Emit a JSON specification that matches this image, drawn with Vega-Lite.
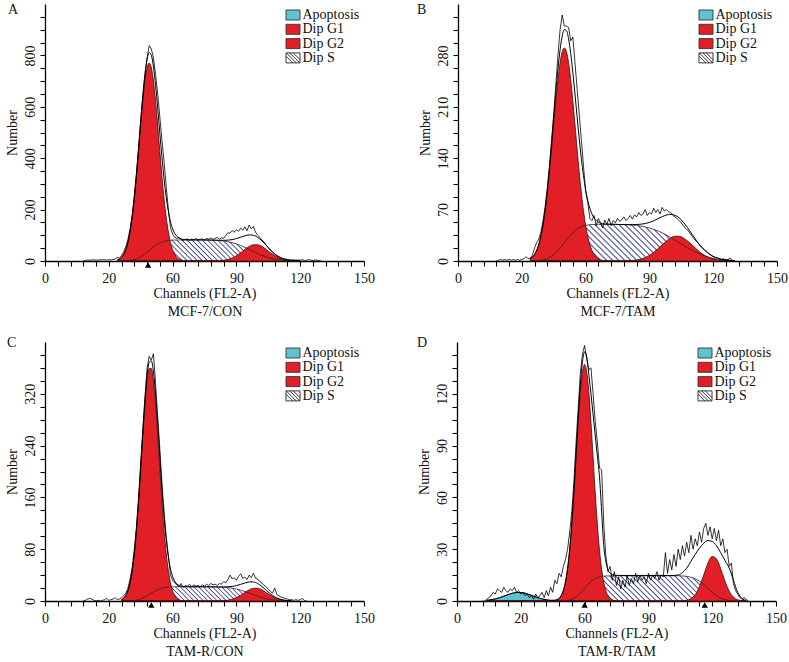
{
"$schema": "https://vega.github.io/schema/vega-lite/v6.json",
"background": "white",
"padding": {"left": 5, "top": 3, "right": 0, "bottom": 0},
"config": {
 "view": {"stroke": null},
 "font": "Liberation Serif",
 "axis": {"labelFont": "Liberation Serif", "titleFont": "Liberation Serif", "labelFontSize": 14, "titleFontSize": 14, "titleFontWeight": "normal", "labelColor": "#111", "titleColor": "#111", "domainColor": "#000", "domainWidth": 1.3, "tickColor": "#000", "tickWidth": 1.1, "grid": false, "labelOverlap": false, "labelFlush": false, "ticks": true, "tickSize": 5},
 "axisX": {"labelPadding": 5, "titlePadding": 1, "titleLineHeight": 18, "labelOverlap": false},
 "axisY": {"labelAngle": -90, "labelAlign": "center", "labelBaseline": "bottom", "labelPadding": 3, "titlePadding": 4, "labelOverlap": false},
 "title": {"font": "Liberation Serif", "fontSize": 14, "fontWeight": "normal", "color": "#111", "anchor": "start", "frame": "group", "offset": 4},
 "legend": {"title": null, "orient": "top-right", "offset": 4, "padding": 0, "rowPadding": 0.3, "labelOffset": 2.5, "symbolSize": 100, "symbolStrokeWidth": 0.9, "symbolOpacity": 1, "labelFont": "Liberation Serif", "labelFontSize": 14, "labelColor": "#111"}
},
"datasets": {
 "leg": [{"k":"Apoptosis"},{"k":"Dip G1"},{"k":"Dip G2"},{"k":"Dip S"}],
 "mA": [{"ch":48.5}],
 "mC": [{"ch":50}],
 "mD": [{"ch":60},{"ch":116.5}],
 "A": [
{"ch":34,"g1":3.8,"s":0.1,"g2":0,"fit":3.9},{"ch":35,"g1":7.5,"s":0.1,"g2":0,"fit":7.6},{"ch":36,"g1":14,"s":0.2,"g2":0,"fit":14.2},{"ch":37,"g1":26,"s":0.4,"g2":0,"fit":26.4},{"ch":38,"g1":44,"s":0.7,"g2":0,"fit":44.7},{"ch":39,"g1":72,"s":1.2,"g2":0,"fit":73.2},{"ch":40,"g1":114,"s":2,"g2":0,"fit":116},{"ch":41,"g1":170,"s":3.4,"g2":0,"fit":173.4},{"ch":42,"g1":242,"s":5.2,"g2":0,"fit":247.2},{"ch":43,"g1":329,"s":8,"g2":0,"fit":337},{"ch":44,"g1":426,"s":11.3,"g2":0,"fit":437.3},{"ch":45,"g1":528,"s":15.7,"g2":0,"fit":543.7},{"ch":46,"g1":622,"s":21.2,"g2":0,"fit":643.2},{"ch":47,"g1":701,"s":27.2,"g2":0,"fit":728.2},{"ch":48,"g1":752,"s":33.9,"g2":0,"fit":785.9},{"ch":49,"g1":770,"s":41,"g2":0,"fit":811},{"ch":50,"g1":752,"s":48.1,"g2":0,"fit":800.1},{"ch":51,"g1":701,"s":54.8,"g2":0,"fit":755.8},{"ch":52,"g1":622,"s":60.8,"g2":0,"fit":682.8},{"ch":53,"g1":528,"s":66.3,"g2":0,"fit":594.3},{"ch":54,"g1":426,"s":70.7,"g2":0,"fit":496.7},{"ch":55,"g1":329,"s":74,"g2":0,"fit":403},{"ch":56,"g1":242,"s":76.8,"g2":0,"fit":318.8},{"ch":57,"g1":170,"s":78.6,"g2":0,"fit":248.6},{"ch":58,"g1":114,"s":80,"g2":0,"fit":194},{"ch":59,"g1":72,"s":80.8,"g2":0,"fit":152.8},{"ch":60,"g1":44,"s":81.3,"g2":0,"fit":125.3},{"ch":61,"g1":26,"s":81.6,"g2":0,"fit":107.6},{"ch":62,"g1":14,"s":81.8,"g2":0,"fit":95.8},{"ch":64,"g1":3.8,"s":82,"g2":0,"fit":85.8},{"ch":66,"g1":0.8,"s":82,"g2":0,"fit":82.8},{"ch":68,"g1":0,"s":82,"g2":0,"fit":82},{"ch":70,"g1":0,"s":82,"g2":0,"fit":82},{"ch":72,"g1":0,"s":82,"g2":0,"fit":82},{"ch":74,"g1":0,"s":82,"g2":0,"fit":82},{"ch":76,"g1":0,"s":81.8,"g2":0,"fit":81.8},{"ch":78,"g1":0,"s":81.3,"g2":0,"fit":81.3},{"ch":80,"g1":0,"s":80.6,"g2":0.4,"fit":81},{"ch":82,"g1":0,"s":79.5,"g2":1.2,"fit":80.7},{"ch":84,"g1":0,"s":77.7,"g2":2.8,"fit":80.5},{"ch":86,"g1":0,"s":75,"g2":6.1,"fit":81.1},{"ch":88,"g1":0,"s":71.3,"g2":11.9,"fit":83.2},{"ch":90,"g1":0,"s":66.3,"g2":20.8,"fit":87.1},{"ch":92,"g1":0,"s":60.2,"g2":32.4,"fit":92.6},{"ch":94,"g1":0,"s":53,"g2":45.2,"fit":98.2},{"ch":96,"g1":0,"s":45.1,"g2":56.5,"fit":101.6},{"ch":98,"g1":0,"s":36.9,"g2":63.1,"fit":100},{"ch":100,"g1":0,"s":29,"g2":63.1,"fit":92.1},{"ch":102,"g1":0,"s":21.8,"g2":56.5,"fit":78.3},{"ch":104,"g1":0,"s":15.7,"g2":45.2,"fit":60.9},{"ch":106,"g1":0,"s":10.7,"g2":32.4,"fit":43.1},{"ch":108,"g1":0,"s":7,"g2":20.8,"fit":27.8},{"ch":110,"g1":0,"s":4.3,"g2":11.9,"fit":16.2},{"ch":112,"g1":0,"s":2.5,"g2":6.1,"fit":8.6},{"ch":114,"g1":0,"s":1.4,"g2":2.8,"fit":4.2},{"ch":116,"g1":0,"s":0.7,"g2":1.2,"fit":1.9},{"ch":118,"g1":0,"s":0.3,"g2":0.4,"fit":0.7},{"ch":120,"g1":0,"s":0.2,"g2":0,"fit":0.2}
 ],
 "rA": [
{"ch":18,"raw":0},{"ch":19,"raw":2},{"ch":20,"raw":4},{"ch":21,"raw":3},{"ch":22,"raw":4},{"ch":23,"raw":5},{"ch":24,"raw":3},{"ch":25,"raw":4},{"ch":26,"raw":5},{"ch":27,"raw":4},{"ch":28,"raw":5},{"ch":29,"raw":3},{"ch":30,"raw":5},{"ch":31,"raw":4},{"ch":32,"raw":6},{"ch":33,"raw":8},{"ch":34,"raw":14},{"ch":35,"raw":11},{"ch":36,"raw":22},{"ch":37,"raw":35},{"ch":38,"raw":55},{"ch":39,"raw":85},{"ch":40,"raw":125},{"ch":41,"raw":180},{"ch":42,"raw":255},{"ch":43,"raw":340},{"ch":44,"raw":440},{"ch":45,"raw":545},{"ch":46,"raw":640},{"ch":47,"raw":720},{"ch":48,"raw":790},{"ch":49,"raw":838},{"ch":50,"raw":825},{"ch":51,"raw":790},{"ch":52,"raw":725},{"ch":53,"raw":650},{"ch":54,"raw":560},{"ch":55,"raw":470},{"ch":56,"raw":385},{"ch":57,"raw":290},{"ch":58,"raw":200},{"ch":59,"raw":130},{"ch":60,"raw":105},{"ch":61,"raw":92},{"ch":62,"raw":88},{"ch":63,"raw":92},{"ch":64,"raw":85},{"ch":65,"raw":80},{"ch":66,"raw":84},{"ch":67,"raw":86},{"ch":68,"raw":81},{"ch":69,"raw":85},{"ch":70,"raw":83},{"ch":71,"raw":87},{"ch":72,"raw":82},{"ch":73,"raw":84},{"ch":74,"raw":86},{"ch":75,"raw":82},{"ch":76,"raw":88},{"ch":77,"raw":85},{"ch":78,"raw":90},{"ch":79,"raw":84},{"ch":80,"raw":88},{"ch":81,"raw":92},{"ch":82,"raw":85},{"ch":83,"raw":90},{"ch":84,"raw":88},{"ch":85,"raw":100},{"ch":86,"raw":110},{"ch":87,"raw":108},{"ch":88,"raw":118},{"ch":89,"raw":112},{"ch":90,"raw":122},{"ch":91,"raw":115},{"ch":92,"raw":128},{"ch":93,"raw":120},{"ch":94,"raw":133},{"ch":95,"raw":118},{"ch":96,"raw":140},{"ch":97,"raw":125},{"ch":98,"raw":135},{"ch":99,"raw":112},{"ch":100,"raw":100},{"ch":101,"raw":92},{"ch":102,"raw":82},{"ch":103,"raw":74},{"ch":104,"raw":62},{"ch":105,"raw":52},{"ch":106,"raw":42},{"ch":107,"raw":34},{"ch":108,"raw":26},{"ch":109,"raw":20},{"ch":110,"raw":16},{"ch":111,"raw":12},{"ch":112,"raw":9},{"ch":113,"raw":8},{"ch":114,"raw":6},{"ch":115,"raw":5},{"ch":116,"raw":4},{"ch":117,"raw":5},{"ch":118,"raw":3},{"ch":119,"raw":4},{"ch":120,"raw":3},{"ch":121,"raw":5},{"ch":122,"raw":2},{"ch":123,"raw":3},{"ch":124,"raw":6},{"ch":125,"raw":3},{"ch":126,"raw":2},{"ch":127,"raw":4},{"ch":128,"raw":3},{"ch":129,"raw":1},{"ch":130,"raw":0}
 ],
 "B": [
{"ch":34,"g1":3,"s":0.1,"g2":0,"fit":3.1},{"ch":35,"g1":5.3,"s":0.1,"g2":0,"fit":5.4},{"ch":36,"g1":8.8,"s":0.2,"g2":0,"fit":9},{"ch":37,"g1":14.3,"s":0.4,"g2":0,"fit":14.7},{"ch":38,"g1":22.4,"s":0.6,"g2":0,"fit":23},{"ch":39,"g1":33.6,"s":1,"g2":0,"fit":34.6},{"ch":40,"g1":48.9,"s":1.5,"g2":0,"fit":50.4},{"ch":41,"g1":68.6,"s":2.3,"g2":0,"fit":70.9},{"ch":42,"g1":92.8,"s":3.3,"g2":0,"fit":96.1},{"ch":43,"g1":121,"s":4.7,"g2":0,"fit":125.7},{"ch":44,"g1":153,"s":6.5,"g2":0,"fit":159.5},{"ch":45,"g1":186,"s":8.7,"g2":0,"fit":194.7},{"ch":46,"g1":218,"s":11.3,"g2":0,"fit":229.3},{"ch":47,"g1":247,"s":14.3,"g2":0,"fit":261.3},{"ch":48,"g1":270,"s":17.7,"g2":0,"fit":287.7},{"ch":49,"g1":285,"s":21.3,"g2":0,"fit":306.3},{"ch":50,"g1":290,"s":25,"g2":0,"fit":315},{"ch":51,"g1":285,"s":28.8,"g2":0,"fit":313.8},{"ch":52,"g1":270,"s":32.4,"g2":0,"fit":302.4},{"ch":53,"g1":247,"s":35.7,"g2":0,"fit":282.7},{"ch":54,"g1":218,"s":38.8,"g2":0,"fit":256.8},{"ch":55,"g1":186,"s":41.4,"g2":0,"fit":227.4},{"ch":56,"g1":153,"s":43.6,"g2":0,"fit":196.6},{"ch":57,"g1":121,"s":45.4,"g2":0,"fit":166.4},{"ch":58,"g1":92.8,"s":46.7,"g2":0,"fit":139.5},{"ch":59,"g1":68.6,"s":47.8,"g2":0,"fit":116.4},{"ch":60,"g1":48.9,"s":48.5,"g2":0,"fit":97.4},{"ch":61,"g1":33.6,"s":49.1,"g2":0,"fit":82.7},{"ch":62,"g1":22.4,"s":49.4,"g2":0,"fit":71.8},{"ch":63,"g1":14.3,"s":49.7,"g2":0,"fit":64},{"ch":64,"g1":8.8,"s":49.8,"g2":0,"fit":58.6},{"ch":65,"g1":5.3,"s":49.9,"g2":0,"fit":55.2},{"ch":66,"g1":3,"s":50,"g2":0,"fit":53},{"ch":68,"g1":0.8,"s":50,"g2":0,"fit":50.8},{"ch":70,"g1":0.2,"s":50,"g2":0,"fit":50.2},{"ch":72,"g1":0,"s":50,"g2":0,"fit":50},{"ch":74,"g1":0,"s":49.9,"g2":0,"fit":49.9},{"ch":76,"g1":0,"s":49.7,"g2":0,"fit":49.7},{"ch":78,"g1":0,"s":49.6,"g2":0,"fit":49.6},{"ch":80,"g1":0,"s":49.3,"g2":0.3,"fit":49.6},{"ch":82,"g1":0,"s":48.9,"g2":0.7,"fit":49.6},{"ch":84,"g1":0,"s":48.3,"g2":1.4,"fit":49.7},{"ch":86,"g1":0,"s":47.5,"g2":2.6,"fit":50.1},{"ch":88,"g1":0,"s":46.4,"g2":4.6,"fit":51},{"ch":90,"g1":0,"s":44.9,"g2":7.6,"fit":52.5},{"ch":92,"g1":0,"s":43.1,"g2":11.6,"fit":54.7},{"ch":94,"g1":0,"s":41,"g2":16.6,"fit":57.6},{"ch":96,"g1":0,"s":38.3,"g2":22,"fit":60.3},{"ch":98,"g1":0,"s":35.4,"g2":27.2,"fit":62.6},{"ch":100,"g1":0,"s":32.1,"g2":31.4,"fit":63.5},{"ch":102,"g1":0,"s":28.6,"g2":33.7,"fit":62.3},{"ch":104,"g1":0,"s":25,"g2":33.7,"fit":58.7},{"ch":106,"g1":0,"s":21.4,"g2":31.4,"fit":52.8},{"ch":108,"g1":0,"s":17.9,"g2":27.2,"fit":45.1},{"ch":110,"g1":0,"s":14.7,"g2":22,"fit":36.7},{"ch":112,"g1":0,"s":11.7,"g2":16.6,"fit":28.3},{"ch":114,"g1":0,"s":9.1,"g2":11.6,"fit":20.7},{"ch":116,"g1":0,"s":6.9,"g2":7.6,"fit":14.5},{"ch":118,"g1":0,"s":5.1,"g2":4.6,"fit":9.7},{"ch":120,"g1":0,"s":3.7,"g2":2.6,"fit":6.3},{"ch":122,"g1":0,"s":2.6,"g2":1.4,"fit":4},{"ch":124,"g1":0,"s":1.7,"g2":0.7,"fit":2.4},{"ch":126,"g1":0,"s":1.2,"g2":0.3,"fit":1.5},{"ch":128,"g1":0,"s":0.8,"g2":0,"fit":0.8},{"ch":130,"g1":0,"s":0.5,"g2":0,"fit":0.5}
 ],
 "rB": [
{"ch":18,"raw":0},{"ch":19,"raw":1},{"ch":20,"raw":2},{"ch":21,"raw":1},{"ch":22,"raw":2},{"ch":23,"raw":1},{"ch":24,"raw":2},{"ch":25,"raw":1},{"ch":26,"raw":2},{"ch":27,"raw":1},{"ch":28,"raw":2},{"ch":29,"raw":1},{"ch":30,"raw":2},{"ch":31,"raw":3},{"ch":32,"raw":6},{"ch":33,"raw":3},{"ch":34,"raw":4},{"ch":35,"raw":8},{"ch":36,"raw":18},{"ch":37,"raw":25},{"ch":38,"raw":30},{"ch":39,"raw":40},{"ch":40,"raw":55},{"ch":41,"raw":75},{"ch":42,"raw":100},{"ch":43,"raw":130},{"ch":44,"raw":165},{"ch":45,"raw":200},{"ch":46,"raw":240},{"ch":47,"raw":280},{"ch":48,"raw":315},{"ch":49,"raw":335},{"ch":50,"raw":320},{"ch":51,"raw":320},{"ch":52,"raw":318},{"ch":53,"raw":300},{"ch":54,"raw":305},{"ch":55,"raw":270},{"ch":56,"raw":235},{"ch":57,"raw":200},{"ch":58,"raw":165},{"ch":59,"raw":130},{"ch":60,"raw":95},{"ch":61,"raw":80},{"ch":62,"raw":58},{"ch":63,"raw":55},{"ch":64,"raw":62},{"ch":65,"raw":48},{"ch":66,"raw":58},{"ch":67,"raw":52},{"ch":68,"raw":45},{"ch":69,"raw":56},{"ch":70,"raw":50},{"ch":71,"raw":58},{"ch":72,"raw":48},{"ch":73,"raw":55},{"ch":74,"raw":52},{"ch":75,"raw":58},{"ch":76,"raw":54},{"ch":77,"raw":56},{"ch":78,"raw":60},{"ch":79,"raw":55},{"ch":80,"raw":58},{"ch":81,"raw":62},{"ch":82,"raw":57},{"ch":83,"raw":63},{"ch":84,"raw":60},{"ch":85,"raw":66},{"ch":86,"raw":62},{"ch":87,"raw":64},{"ch":88,"raw":70},{"ch":89,"raw":62},{"ch":90,"raw":66},{"ch":91,"raw":64},{"ch":92,"raw":72},{"ch":93,"raw":66},{"ch":94,"raw":70},{"ch":95,"raw":64},{"ch":96,"raw":73},{"ch":97,"raw":68},{"ch":98,"raw":70},{"ch":99,"raw":67},{"ch":100,"raw":66},{"ch":101,"raw":62},{"ch":102,"raw":60},{"ch":103,"raw":58},{"ch":104,"raw":55},{"ch":105,"raw":52},{"ch":106,"raw":48},{"ch":107,"raw":44},{"ch":108,"raw":42},{"ch":109,"raw":38},{"ch":110,"raw":34},{"ch":111,"raw":30},{"ch":112,"raw":27},{"ch":113,"raw":24},{"ch":114,"raw":20},{"ch":115,"raw":18},{"ch":116,"raw":15},{"ch":117,"raw":13},{"ch":118,"raw":10},{"ch":119,"raw":8},{"ch":120,"raw":6},{"ch":121,"raw":5},{"ch":122,"raw":4},{"ch":123,"raw":3},{"ch":124,"raw":2},{"ch":125,"raw":3},{"ch":126,"raw":1},{"ch":127,"raw":2},{"ch":128,"raw":4},{"ch":129,"raw":1},{"ch":130,"raw":0}
 ],
 "C": [
{"ch":36,"g1":2.1,"s":0,"g2":0,"fit":2.1},{"ch":37,"g1":4.3,"s":0,"g2":0,"fit":4.3},{"ch":38,"g1":8.5,"s":0.1,"g2":0,"fit":8.6},{"ch":39,"g1":15.9,"s":0.1,"g2":0,"fit":16},{"ch":40,"g1":28.1,"s":0.3,"g2":0,"fit":28.4},{"ch":41,"g1":46.7,"s":0.5,"g2":0,"fit":47.2},{"ch":42,"g1":73.5,"s":0.8,"g2":0,"fit":74.3},{"ch":43,"g1":109,"s":1.3,"g2":0,"fit":110.3},{"ch":44,"g1":153,"s":2.1,"g2":0,"fit":155.1},{"ch":45,"g1":204,"s":3.1,"g2":0,"fit":207.1},{"ch":46,"g1":256,"s":4.4,"g2":0,"fit":260.4},{"ch":47,"g1":303,"s":6.1,"g2":0,"fit":309.1},{"ch":48,"g1":340,"s":7.9,"g2":0,"fit":347.9},{"ch":49,"g1":359,"s":10,"g2":0,"fit":369},{"ch":50,"g1":359,"s":12,"g2":0,"fit":371},{"ch":51,"g1":340,"s":14.1,"g2":0,"fit":354.1},{"ch":52,"g1":303,"s":15.9,"g2":0,"fit":318.9},{"ch":53,"g1":256,"s":17.6,"g2":0,"fit":273.6},{"ch":54,"g1":204,"s":18.9,"g2":0,"fit":222.9},{"ch":55,"g1":153,"s":19.9,"g2":0,"fit":172.9},{"ch":56,"g1":109,"s":20.7,"g2":0,"fit":129.7},{"ch":57,"g1":73.5,"s":21.2,"g2":0,"fit":94.7},{"ch":58,"g1":46.7,"s":21.5,"g2":0,"fit":68.2},{"ch":59,"g1":28.1,"s":21.7,"g2":0,"fit":49.8},{"ch":60,"g1":15.9,"s":21.9,"g2":0,"fit":37.8},{"ch":61,"g1":8.5,"s":21.9,"g2":0,"fit":30.4},{"ch":62,"g1":4.3,"s":22,"g2":0,"fit":26.3},{"ch":63,"g1":2.1,"s":22,"g2":0,"fit":24.1},{"ch":64,"g1":0.9,"s":22,"g2":0,"fit":22.9},{"ch":66,"g1":0.2,"s":22,"g2":0,"fit":22.2},{"ch":68,"g1":0,"s":22,"g2":0,"fit":22},{"ch":70,"g1":0,"s":22,"g2":0,"fit":22},{"ch":72,"g1":0,"s":22,"g2":0,"fit":22},{"ch":74,"g1":0,"s":22,"g2":0,"fit":22},{"ch":76,"g1":0,"s":22,"g2":0,"fit":22},{"ch":78,"g1":0,"s":21.9,"g2":0,"fit":21.9},{"ch":80,"g1":0,"s":21.8,"g2":0,"fit":21.8},{"ch":82,"g1":0,"s":21.6,"g2":0,"fit":21.6},{"ch":84,"g1":0,"s":21.3,"g2":0.5,"fit":21.8},{"ch":86,"g1":0,"s":20.7,"g2":1.2,"fit":21.9},{"ch":88,"g1":0,"s":19.8,"g2":2.7,"fit":22.5},{"ch":90,"g1":0,"s":18.5,"g2":5.3,"fit":23.8},{"ch":92,"g1":0,"s":16.8,"g2":8.9,"fit":25.7},{"ch":94,"g1":0,"s":14.6,"g2":13.2,"fit":27.8},{"ch":96,"g1":0,"s":12.2,"g2":17.2,"fit":29.4},{"ch":98,"g1":0,"s":9.7,"g2":19.7,"fit":29.4},{"ch":100,"g1":0,"s":7.3,"g2":19.7,"fit":27},{"ch":102,"g1":0,"s":5.2,"g2":17.2,"fit":22.4},{"ch":104,"g1":0,"s":3.5,"g2":13.2,"fit":16.7},{"ch":106,"g1":0,"s":2.2,"g2":8.9,"fit":11.1},{"ch":108,"g1":0,"s":1.3,"g2":5.3,"fit":6.6},{"ch":110,"g1":0,"s":0.7,"g2":2.7,"fit":3.4},{"ch":112,"g1":0,"s":0.4,"g2":1.2,"fit":1.6},{"ch":114,"g1":0,"s":0.2,"g2":0.5,"fit":0.7},{"ch":116,"g1":0,"s":0.1,"g2":0.2,"fit":0.3}
 ],
 "rC": [
{"ch":18,"raw":0},{"ch":19,"raw":1},{"ch":20,"raw":3},{"ch":21,"raw":4},{"ch":22,"raw":3},{"ch":23,"raw":1},{"ch":24,"raw":0},{"ch":25,"raw":1},{"ch":26,"raw":0},{"ch":27,"raw":1},{"ch":28,"raw":2},{"ch":29,"raw":4},{"ch":30,"raw":1},{"ch":31,"raw":2},{"ch":32,"raw":3},{"ch":33,"raw":5},{"ch":34,"raw":2},{"ch":35,"raw":3},{"ch":36,"raw":5},{"ch":37,"raw":8},{"ch":38,"raw":12},{"ch":39,"raw":20},{"ch":40,"raw":34},{"ch":41,"raw":52},{"ch":42,"raw":80},{"ch":43,"raw":115},{"ch":44,"raw":160},{"ch":45,"raw":212},{"ch":46,"raw":265},{"ch":47,"raw":315},{"ch":48,"raw":360},{"ch":49,"raw":378},{"ch":50,"raw":372},{"ch":51,"raw":382},{"ch":52,"raw":335},{"ch":53,"raw":285},{"ch":54,"raw":235},{"ch":55,"raw":182},{"ch":56,"raw":138},{"ch":57,"raw":100},{"ch":58,"raw":70},{"ch":59,"raw":40},{"ch":60,"raw":32},{"ch":61,"raw":28},{"ch":62,"raw":25},{"ch":63,"raw":22},{"ch":64,"raw":27},{"ch":65,"raw":21},{"ch":66,"raw":24},{"ch":67,"raw":23},{"ch":68,"raw":26},{"ch":69,"raw":22},{"ch":70,"raw":25},{"ch":71,"raw":23},{"ch":72,"raw":24},{"ch":73,"raw":22},{"ch":74,"raw":25},{"ch":75,"raw":23},{"ch":76,"raw":26},{"ch":77,"raw":24},{"ch":78,"raw":27},{"ch":79,"raw":25},{"ch":80,"raw":26},{"ch":81,"raw":24},{"ch":82,"raw":27},{"ch":83,"raw":26},{"ch":84,"raw":30},{"ch":85,"raw":28},{"ch":86,"raw":33},{"ch":87,"raw":40},{"ch":88,"raw":34},{"ch":89,"raw":36},{"ch":90,"raw":32},{"ch":91,"raw":38},{"ch":92,"raw":42},{"ch":93,"raw":35},{"ch":94,"raw":37},{"ch":95,"raw":33},{"ch":96,"raw":40},{"ch":97,"raw":36},{"ch":98,"raw":43},{"ch":99,"raw":35},{"ch":100,"raw":34},{"ch":101,"raw":30},{"ch":102,"raw":28},{"ch":103,"raw":24},{"ch":104,"raw":22},{"ch":105,"raw":18},{"ch":106,"raw":15},{"ch":107,"raw":12},{"ch":108,"raw":20},{"ch":109,"raw":10},{"ch":110,"raw":8},{"ch":111,"raw":6},{"ch":112,"raw":5},{"ch":113,"raw":4},{"ch":114,"raw":3},{"ch":115,"raw":2},{"ch":116,"raw":2},{"ch":117,"raw":1},{"ch":118,"raw":2},{"ch":119,"raw":1},{"ch":120,"raw":2},{"ch":121,"raw":4},{"ch":122,"raw":1},{"ch":123,"raw":0}
 ],
 "D": [
{"ch":14,"ap":0.35,"g1":0,"s":0,"g2":0,"fit":0.4},{"ch":16,"ap":0.7,"g1":0,"s":0,"g2":0,"fit":0.7},{"ch":18,"ap":1.2,"g1":0,"s":0,"g2":0,"fit":1.2},{"ch":20,"ap":1.9,"g1":0,"s":0,"g2":0,"fit":1.9},{"ch":22,"ap":2.8,"g1":0,"s":0,"g2":0,"fit":2.8},{"ch":24,"ap":3.7,"g1":0,"s":0,"g2":0,"fit":3.7},{"ch":26,"ap":4.5,"g1":0,"s":0,"g2":0,"fit":4.5},{"ch":28,"ap":4.9,"g1":0,"s":0,"g2":0,"fit":4.9},{"ch":30,"ap":4.9,"g1":0,"s":0,"g2":0,"fit":4.9},{"ch":32,"ap":4.5,"g1":0,"s":0,"g2":0,"fit":4.5},{"ch":34,"ap":3.7,"g1":0,"s":0,"g2":0,"fit":3.7},{"ch":36,"ap":2.8,"g1":0,"s":0,"g2":0,"fit":2.8},{"ch":38,"ap":1.9,"g1":0,"s":0,"g2":0,"fit":1.9},{"ch":40,"ap":1.2,"g1":0,"s":0,"g2":0,"fit":1.2},{"ch":42,"ap":0.7,"g1":0,"s":0,"g2":0,"fit":0.7},{"ch":44,"ap":0.35,"g1":0,"s":0,"g2":0,"fit":0.4},{"ch":46,"ap":0,"g1":0.3,"s":0,"g2":0,"fit":0.5},{"ch":48,"ap":0,"g1":1.5,"s":0,"g2":0,"fit":1.5},{"ch":49,"ap":0,"g1":3.1,"s":0.1,"g2":0,"fit":3.2},{"ch":50,"ap":0,"g1":6,"s":0.1,"g2":0,"fit":6.1},{"ch":51,"ap":0,"g1":10.9,"s":0.2,"g2":0,"fit":11.1},{"ch":52,"ap":0,"g1":18.5,"s":0.3,"g2":0,"fit":18.8},{"ch":53,"ap":0,"g1":29.6,"s":0.6,"g2":0,"fit":30.2},{"ch":54,"ap":0,"g1":44.5,"s":1,"g2":0,"fit":45.5},{"ch":55,"ap":0,"g1":62.7,"s":1.5,"g2":0,"fit":64.2},{"ch":56,"ap":0,"g1":83.1,"s":2.3,"g2":0,"fit":85.4},{"ch":57,"ap":0,"g1":103.4,"s":3.3,"g2":0,"fit":106.7},{"ch":58,"ap":0,"g1":120.9,"s":4.5,"g2":0,"fit":125.4},{"ch":59,"ap":0,"g1":132.8,"s":5.9,"g2":0,"fit":138.7},{"ch":60,"ap":0,"g1":137,"s":7.3,"g2":0,"fit":144.3},{"ch":61,"ap":0,"g1":132.8,"s":8.7,"g2":0,"fit":141.5},{"ch":62,"ap":0,"g1":120.9,"s":10.1,"g2":0,"fit":131},{"ch":63,"ap":0,"g1":103.4,"s":11.3,"g2":0,"fit":120},{"ch":64,"ap":0,"g1":83.1,"s":12.3,"g2":0,"fit":108},{"ch":65,"ap":0,"g1":62.7,"s":13.1,"g2":0,"fit":96},{"ch":66,"ap":0,"g1":44.5,"s":13.6,"g2":0,"fit":84},{"ch":67,"ap":0,"g1":29.6,"s":14,"g2":0,"fit":72},{"ch":68,"ap":0,"g1":18.5,"s":14.3,"g2":0,"fit":52},{"ch":69,"ap":0,"g1":10.9,"s":14.4,"g2":0,"fit":32},{"ch":70,"ap":0,"g1":6,"s":14.5,"g2":0,"fit":23},{"ch":71,"ap":0,"g1":3.1,"s":14.5,"g2":0,"fit":18},{"ch":72,"ap":0,"g1":1.5,"s":14.6,"g2":0,"fit":16},{"ch":74,"ap":0,"g1":0.3,"s":14.6,"g2":0,"fit":15},{"ch":76,"ap":0,"g1":0,"s":14.6,"g2":0,"fit":14.8},{"ch":80,"ap":0,"g1":0,"s":14.6,"g2":0,"fit":14.8},{"ch":84,"ap":0,"g1":0,"s":14.6,"g2":0,"fit":14.8},{"ch":88,"ap":0,"g1":0,"s":14.6,"g2":0,"fit":14.8},{"ch":92,"ap":0,"g1":0,"s":14.6,"g2":0,"fit":14.8},{"ch":96,"ap":0,"g1":0,"s":14.6,"g2":0,"fit":14.8},{"ch":100,"ap":0,"g1":0,"s":14.6,"g2":0,"fit":14.8},{"ch":102,"ap":0,"g1":0,"s":14.6,"g2":0,"fit":14.8},{"ch":104,"ap":0,"g1":0,"s":14.6,"g2":0,"fit":15},{"ch":106,"ap":0,"g1":0,"s":14.5,"g2":0.1,"fit":16.5},{"ch":108,"ap":0,"g1":0,"s":14.3,"g2":0.4,"fit":19},{"ch":110,"ap":0,"g1":0,"s":13.8,"g2":1.3,"fit":23},{"ch":112,"ap":0,"g1":0,"s":12.9,"g2":3.7,"fit":27},{"ch":114,"ap":0,"g1":0,"s":11.5,"g2":8.3,"fit":30.5},{"ch":116,"ap":0,"g1":0,"s":9.6,"g2":15,"fit":33.5},{"ch":118,"ap":0,"g1":0,"s":7.3,"g2":22,"fit":35},{"ch":120,"ap":0,"g1":0,"s":5,"g2":25.8,"fit":34.5},{"ch":122,"ap":0,"g1":0,"s":3.1,"g2":24.5,"fit":32},{"ch":124,"ap":0,"g1":0,"s":1.7,"g2":18.7,"fit":28},{"ch":126,"ap":0,"g1":0,"s":0.8,"g2":11.5,"fit":23.5},{"ch":128,"ap":0,"g1":0,"s":0.3,"g2":5.7,"fit":19},{"ch":130,"ap":0,"g1":0,"s":0.1,"g2":2.3,"fit":12},{"ch":132,"ap":0,"g1":0,"s":0,"g2":0.7,"fit":5},{"ch":134,"ap":0,"g1":0,"s":0,"g2":0.2,"fit":1.5},{"ch":136,"ap":0,"g1":0,"s":0,"g2":0,"fit":0.3}
 ],
 "rD": [
{"ch":12,"raw":0},{"ch":13,"raw":0},{"ch":14,"raw":1},{"ch":15,"raw":2},{"ch":16,"raw":3},{"ch":17,"raw":5},{"ch":18,"raw":4},{"ch":19,"raw":7},{"ch":20,"raw":6},{"ch":21,"raw":5},{"ch":22,"raw":8},{"ch":23,"raw":6},{"ch":24,"raw":5},{"ch":25,"raw":7},{"ch":26,"raw":6},{"ch":27,"raw":8},{"ch":28,"raw":5},{"ch":29,"raw":6},{"ch":30,"raw":4},{"ch":31,"raw":5},{"ch":32,"raw":3},{"ch":33,"raw":4},{"ch":34,"raw":2},{"ch":35,"raw":3},{"ch":36,"raw":1},{"ch":37,"raw":4},{"ch":38,"raw":2},{"ch":39,"raw":3},{"ch":40,"raw":5},{"ch":41,"raw":2},{"ch":42,"raw":6},{"ch":43,"raw":3},{"ch":44,"raw":8},{"ch":45,"raw":5},{"ch":46,"raw":12},{"ch":47,"raw":10},{"ch":48,"raw":16},{"ch":49,"raw":14},{"ch":50,"raw":20},{"ch":51,"raw":24},{"ch":52,"raw":30},{"ch":53,"raw":40},{"ch":54,"raw":52},{"ch":55,"raw":70},{"ch":56,"raw":92},{"ch":57,"raw":112},{"ch":58,"raw":132},{"ch":59,"raw":143},{"ch":60,"raw":148},{"ch":61,"raw":140},{"ch":62,"raw":134},{"ch":63,"raw":135},{"ch":64,"raw":120},{"ch":65,"raw":104},{"ch":66,"raw":92},{"ch":67,"raw":77},{"ch":68,"raw":76},{"ch":69,"raw":45},{"ch":70,"raw":26},{"ch":71,"raw":17},{"ch":72,"raw":20},{"ch":73,"raw":12},{"ch":74,"raw":17},{"ch":75,"raw":9},{"ch":76,"raw":14},{"ch":77,"raw":7},{"ch":78,"raw":12},{"ch":79,"raw":8},{"ch":80,"raw":15},{"ch":81,"raw":9},{"ch":82,"raw":13},{"ch":83,"raw":10},{"ch":84,"raw":16},{"ch":85,"raw":11},{"ch":86,"raw":15},{"ch":87,"raw":12},{"ch":88,"raw":14},{"ch":89,"raw":10},{"ch":90,"raw":16},{"ch":91,"raw":12},{"ch":92,"raw":15},{"ch":93,"raw":13},{"ch":94,"raw":17},{"ch":95,"raw":12},{"ch":96,"raw":15},{"ch":97,"raw":14},{"ch":98,"raw":28},{"ch":99,"raw":16},{"ch":100,"raw":24},{"ch":101,"raw":18},{"ch":102,"raw":27},{"ch":103,"raw":20},{"ch":104,"raw":30},{"ch":105,"raw":24},{"ch":106,"raw":32},{"ch":107,"raw":26},{"ch":108,"raw":34},{"ch":109,"raw":28},{"ch":110,"raw":38},{"ch":111,"raw":30},{"ch":112,"raw":36},{"ch":113,"raw":32},{"ch":114,"raw":40},{"ch":115,"raw":34},{"ch":116,"raw":42},{"ch":117,"raw":45},{"ch":118,"raw":38},{"ch":119,"raw":43},{"ch":120,"raw":36},{"ch":121,"raw":42},{"ch":122,"raw":35},{"ch":123,"raw":41},{"ch":124,"raw":32},{"ch":125,"raw":36},{"ch":126,"raw":28},{"ch":127,"raw":30},{"ch":128,"raw":20},{"ch":129,"raw":22},{"ch":130,"raw":10},{"ch":131,"raw":6},{"ch":132,"raw":4},{"ch":133,"raw":2},{"ch":134,"raw":1},{"ch":135,"raw":2},{"ch":136,"raw":1},{"ch":137,"raw":0}
 ]
},
"spacing": 18,
"resolve": {"scale": {"color": "independent", "shape": "independent", "stroke": "independent"}, "legend": {"color": "independent", "shape": "independent", "stroke": "independent"}},
"vconcat": [
{"hconcat": [
{"width": 319, "height": 257, "title": {"text": "A", "dx": -37, "dy": 17},
 "encoding": {"x": {"field": "ch", "type": "quantitative", "scale": {"domain": [0, 150], "nice": false}, "axis": {"values": [0,6,12,18,24,30,36,42,48,54,60,66,72,78,84,90,96,102,108,114,120,126,132,138,144,150], "labelExpr": "datum.value % 30 === 0 ? (datum.value === 30 ? '20' : datum.label) : ''", "tickSize": 5, "labelPadding": 5, "titlePadding": 1, "titleLineHeight": 18, "labelOverlap": false, "labelFlush": false, "title": ["Channels (FL2-A)", "MCF-7/CON"]}}},
 "layer": [
  {"data": {"name": "A"}, "mark": {"type": "area", "interpolate": "monotone", "fill": {"gradient": "linear", "x1": 0, "y1": 1, "x2": 1.1, "y2": 0.873, "stops": [{"offset":0,"color":"#fff"},{"offset":0.013,"color":"#fff"},{"offset":0.02,"color":"#3b3f8c"},{"offset":0.025,"color":"#fff"},{"offset":0.038,"color":"#fff"},{"offset":0.045,"color":"#3b3f8c"},{"offset":0.05,"color":"#fff"},{"offset":0.063,"color":"#fff"},{"offset":0.07,"color":"#3b3f8c"},{"offset":0.075,"color":"#fff"},{"offset":0.088,"color":"#fff"},{"offset":0.095,"color":"#3b3f8c"},{"offset":0.1,"color":"#fff"},{"offset":0.113,"color":"#fff"},{"offset":0.12,"color":"#3b3f8c"},{"offset":0.125,"color":"#fff"},{"offset":0.138,"color":"#fff"},{"offset":0.145,"color":"#3b3f8c"},{"offset":0.15,"color":"#fff"},{"offset":0.163,"color":"#fff"},{"offset":0.17,"color":"#3b3f8c"},{"offset":0.175,"color":"#fff"},{"offset":0.188,"color":"#fff"},{"offset":0.195,"color":"#3b3f8c"},{"offset":0.2,"color":"#fff"},{"offset":0.213,"color":"#fff"},{"offset":0.22,"color":"#3b3f8c"},{"offset":0.225,"color":"#fff"},{"offset":0.238,"color":"#fff"},{"offset":0.245,"color":"#3b3f8c"},{"offset":0.25,"color":"#fff"},{"offset":0.263,"color":"#fff"},{"offset":0.27,"color":"#3b3f8c"},{"offset":0.275,"color":"#fff"},{"offset":0.288,"color":"#fff"},{"offset":0.295,"color":"#3b3f8c"},{"offset":0.3,"color":"#fff"},{"offset":0.313,"color":"#fff"},{"offset":0.32,"color":"#3b3f8c"},{"offset":0.325,"color":"#fff"},{"offset":0.338,"color":"#fff"},{"offset":0.345,"color":"#3b3f8c"},{"offset":0.35,"color":"#fff"},{"offset":0.363,"color":"#fff"},{"offset":0.37,"color":"#3b3f8c"},{"offset":0.375,"color":"#fff"},{"offset":0.388,"color":"#fff"},{"offset":0.395,"color":"#3b3f8c"},{"offset":0.4,"color":"#fff"},{"offset":0.413,"color":"#fff"},{"offset":0.42,"color":"#3b3f8c"},{"offset":0.425,"color":"#fff"},{"offset":0.438,"color":"#fff"},{"offset":0.445,"color":"#3b3f8c"},{"offset":0.45,"color":"#fff"},{"offset":0.463,"color":"#fff"},{"offset":0.47,"color":"#3b3f8c"},{"offset":0.475,"color":"#fff"},{"offset":0.488,"color":"#fff"},{"offset":0.495,"color":"#3b3f8c"},{"offset":0.5,"color":"#fff"},{"offset":0.513,"color":"#fff"},{"offset":0.52,"color":"#3b3f8c"},{"offset":0.525,"color":"#fff"},{"offset":0.538,"color":"#fff"},{"offset":0.545,"color":"#3b3f8c"},{"offset":0.55,"color":"#fff"},{"offset":0.563,"color":"#fff"},{"offset":0.57,"color":"#3b3f8c"},{"offset":0.575,"color":"#fff"},{"offset":0.588,"color":"#fff"},{"offset":0.595,"color":"#3b3f8c"},{"offset":0.6,"color":"#fff"},{"offset":0.613,"color":"#fff"},{"offset":0.62,"color":"#3b3f8c"},{"offset":0.625,"color":"#fff"},{"offset":0.638,"color":"#fff"},{"offset":0.645,"color":"#3b3f8c"},{"offset":0.65,"color":"#fff"},{"offset":0.663,"color":"#fff"},{"offset":0.67,"color":"#3b3f8c"},{"offset":0.675,"color":"#fff"},{"offset":0.688,"color":"#fff"},{"offset":0.695,"color":"#3b3f8c"},{"offset":0.7,"color":"#fff"},{"offset":0.713,"color":"#fff"},{"offset":0.72,"color":"#3b3f8c"},{"offset":0.725,"color":"#fff"},{"offset":0.738,"color":"#fff"},{"offset":0.745,"color":"#3b3f8c"},{"offset":0.75,"color":"#fff"},{"offset":0.763,"color":"#fff"},{"offset":0.77,"color":"#3b3f8c"},{"offset":0.775,"color":"#fff"},{"offset":0.788,"color":"#fff"},{"offset":0.795,"color":"#3b3f8c"},{"offset":0.8,"color":"#fff"},{"offset":0.813,"color":"#fff"},{"offset":0.82,"color":"#3b3f8c"},{"offset":0.825,"color":"#fff"},{"offset":0.838,"color":"#fff"},{"offset":0.845,"color":"#3b3f8c"},{"offset":0.85,"color":"#fff"},{"offset":0.863,"color":"#fff"},{"offset":0.87,"color":"#3b3f8c"},{"offset":0.875,"color":"#fff"},{"offset":0.888,"color":"#fff"},{"offset":0.895,"color":"#3b3f8c"},{"offset":0.9,"color":"#fff"},{"offset":0.913,"color":"#fff"},{"offset":0.92,"color":"#3b3f8c"},{"offset":0.925,"color":"#fff"},{"offset":0.938,"color":"#fff"},{"offset":0.945,"color":"#3b3f8c"},{"offset":0.95,"color":"#fff"},{"offset":0.963,"color":"#fff"},{"offset":0.97,"color":"#3b3f8c"},{"offset":0.975,"color":"#fff"},{"offset":0.988,"color":"#fff"},{"offset":0.995,"color":"#3b3f8c"},{"offset":1,"color":"#fff"}]}},
   "encoding": {"y": {"field": "s", "type": "quantitative", "scale": {"domain": [0, 1000], "nice": false}, "axis": {"values": [0,50,100,150,200,250,300,350,400,450,500,550,600,650,700,750,800,850,900,950], "labelExpr": "datum.value % 200 === 0 ? datum.label : ''", "tickSize": 5, "labelAngle": -90, "labelAlign": "center", "labelBaseline": "bottom", "labelPadding": 3, "titlePadding": 4, "labelOverlap": false, "labelFlush": false, "title": "Number"}}}},
  {"data": {"name": "A"}, "mark": {"type": "area", "interpolate": "monotone", "fill": "#e21f26", "stroke": "#3a0d0d", "strokeWidth": 0.8}, "encoding": {"y": {"field": "g1", "type": "quantitative", "scale": {"domain": [0, 1000], "nice": false}, "axis": {"values": [0,50,100,150,200,250,300,350,400,450,500,550,600,650,700,750,800,850,900,950], "labelExpr": "datum.value % 200 === 0 ? datum.label : ''", "tickSize": 5, "labelAngle": -90, "labelAlign": "center", "labelBaseline": "bottom", "labelPadding": 3, "titlePadding": 4, "labelOverlap": false, "labelFlush": false, "title": "Number"}}}},
  {"data": {"name": "A"}, "mark": {"type": "area", "interpolate": "monotone", "fill": "#e21f26", "stroke": "#3a0d0d", "strokeWidth": 0.8}, "encoding": {"y": {"field": "g2", "type": "quantitative", "scale": {"domain": [0, 1000], "nice": false}, "axis": {"values": [0,50,100,150,200,250,300,350,400,450,500,550,600,650,700,750,800,850,900,950], "labelExpr": "datum.value % 200 === 0 ? datum.label : ''", "tickSize": 5, "labelAngle": -90, "labelAlign": "center", "labelBaseline": "bottom", "labelPadding": 3, "titlePadding": 4, "labelOverlap": false, "labelFlush": false, "title": "Number"}}}},
  {"data": {"name": "A"}, "mark": {"type": "line", "interpolate": "monotone", "stroke": "#3a2020", "strokeWidth": 0.8}, "encoding": {"y": {"field": "s", "type": "quantitative", "scale": {"domain": [0, 1000], "nice": false}, "axis": {"values": [0,50,100,150,200,250,300,350,400,450,500,550,600,650,700,750,800,850,900,950], "labelExpr": "datum.value % 200 === 0 ? datum.label : ''", "tickSize": 5, "labelAngle": -90, "labelAlign": "center", "labelBaseline": "bottom", "labelPadding": 3, "titlePadding": 4, "labelOverlap": false, "labelFlush": false, "title": "Number"}}}},
  {"data": {"name": "A"}, "mark": {"type": "line", "interpolate": "monotone", "stroke": "#000", "strokeWidth": 1}, "encoding": {"y": {"field": "fit", "type": "quantitative", "scale": {"domain": [0, 1000], "nice": false}, "axis": {"values": [0,50,100,150,200,250,300,350,400,450,500,550,600,650,700,750,800,850,900,950], "labelExpr": "datum.value % 200 === 0 ? datum.label : ''", "tickSize": 5, "labelAngle": -90, "labelAlign": "center", "labelBaseline": "bottom", "labelPadding": 3, "titlePadding": 4, "labelOverlap": false, "labelFlush": false, "title": "Number"}}}},
  {"data": {"name": "rA"}, "mark": {"type": "line", "stroke": "#000", "strokeWidth": 0.8}, "encoding": {"y": {"field": "raw", "type": "quantitative", "scale": {"domain": [0, 1000], "nice": false}, "axis": {"values": [0,50,100,150,200,250,300,350,400,450,500,550,600,650,700,750,800,850,900,950], "labelExpr": "datum.value % 200 === 0 ? datum.label : ''", "tickSize": 5, "labelAngle": -90, "labelAlign": "center", "labelBaseline": "bottom", "labelPadding": 3, "titlePadding": 4, "labelOverlap": false, "labelFlush": false, "title": "Number"}}}},
  {"data": {"name": "mA"}, "mark": {"type": "point", "shape": "triangle-up", "filled": true, "color": "#000", "opacity": 1, "size": 40, "yOffset": 4}, "encoding": {"y": {"datum": 0, "type": "quantitative", "scale": {"domain": [0, 1000], "nice": false}, "axis": {"values": [0,50,100,150,200,250,300,350,400,450,500,550,600,650,700,750,800,850,900,950], "labelExpr": "datum.value % 200 === 0 ? datum.label : ''", "tickSize": 5, "labelAngle": -90, "labelAlign": "center", "labelBaseline": "bottom", "labelPadding": 3, "titlePadding": 4, "labelOverlap": false, "labelFlush": false, "title": "Number"}}}},
  {"data": {"name": "leg"}, "transform": [{"filter": "false"}], "mark": {"type": "point", "filled": true, "opacity": 1, "strokeWidth": 0.9}, "encoding": {"color": {"field": "k", "type": "nominal", "scale": {"domain": ["Apoptosis","Dip G1","Dip G2","Dip S"], "range": ["#5fc3d0","#e21f26","#e21f26","#ffffff"]}, "legend": {"title": null}}, "stroke": {"field": "k", "type": "nominal", "scale": {"domain": ["Apoptosis","Dip G1","Dip G2","Dip S"], "range": ["#333333","#333333","#333333","#222222"]}, "legend": {"title": null}}, "shape": {"field": "k", "type": "nominal", "scale": {"domain": ["Apoptosis","Dip G1","Dip G2","Dip S"], "range": ["M-1.4,-1H1.4V1H-1.4Z","M-1.4,-1H1.4V1H-1.4Z","M-1.4,-1H1.4V1H-1.4Z","M-1.4,-1H1.4V1H-1.4Z M-1.4,-0.35L-0.05,1 M-1.35,-1L0.65,1 M-0.65,-1L1.35,1 M0.05,-1L1.4,0.35"]}, "legend": {"title": null}}}}
 ]},
{"width": 319, "height": 257, "title": {"text": "B", "dx": -41, "dy": 17},
 "encoding": {"x": {"field": "ch", "type": "quantitative", "scale": {"domain": [0, 150], "nice": false}, "axis": {"values": [0,6,12,18,24,30,36,42,48,54,60,66,72,78,84,90,96,102,108,114,120,126,132,138,144,150], "labelExpr": "datum.value % 30 === 0 ? (datum.value === 30 ? '20' : datum.label) : ''", "tickSize": 5, "labelPadding": 5, "titlePadding": 1, "titleLineHeight": 18, "labelOverlap": false, "labelFlush": false, "title": ["Channels (FL2-A)", "MCF-7/TAM"]}}},
 "layer": [
  {"data": {"name": "B"}, "mark": {"type": "area", "interpolate": "monotone", "fill": {"gradient": "linear", "x1": 0, "y1": 1, "x2": 1.143, "y2": 0.794, "stops": [{"offset":0,"color":"#fff"},{"offset":0.013,"color":"#fff"},{"offset":0.02,"color":"#3b3f8c"},{"offset":0.025,"color":"#fff"},{"offset":0.038,"color":"#fff"},{"offset":0.045,"color":"#3b3f8c"},{"offset":0.05,"color":"#fff"},{"offset":0.063,"color":"#fff"},{"offset":0.07,"color":"#3b3f8c"},{"offset":0.075,"color":"#fff"},{"offset":0.088,"color":"#fff"},{"offset":0.095,"color":"#3b3f8c"},{"offset":0.1,"color":"#fff"},{"offset":0.113,"color":"#fff"},{"offset":0.12,"color":"#3b3f8c"},{"offset":0.125,"color":"#fff"},{"offset":0.138,"color":"#fff"},{"offset":0.145,"color":"#3b3f8c"},{"offset":0.15,"color":"#fff"},{"offset":0.163,"color":"#fff"},{"offset":0.17,"color":"#3b3f8c"},{"offset":0.175,"color":"#fff"},{"offset":0.188,"color":"#fff"},{"offset":0.195,"color":"#3b3f8c"},{"offset":0.2,"color":"#fff"},{"offset":0.213,"color":"#fff"},{"offset":0.22,"color":"#3b3f8c"},{"offset":0.225,"color":"#fff"},{"offset":0.238,"color":"#fff"},{"offset":0.245,"color":"#3b3f8c"},{"offset":0.25,"color":"#fff"},{"offset":0.263,"color":"#fff"},{"offset":0.27,"color":"#3b3f8c"},{"offset":0.275,"color":"#fff"},{"offset":0.288,"color":"#fff"},{"offset":0.295,"color":"#3b3f8c"},{"offset":0.3,"color":"#fff"},{"offset":0.313,"color":"#fff"},{"offset":0.32,"color":"#3b3f8c"},{"offset":0.325,"color":"#fff"},{"offset":0.338,"color":"#fff"},{"offset":0.345,"color":"#3b3f8c"},{"offset":0.35,"color":"#fff"},{"offset":0.363,"color":"#fff"},{"offset":0.37,"color":"#3b3f8c"},{"offset":0.375,"color":"#fff"},{"offset":0.388,"color":"#fff"},{"offset":0.395,"color":"#3b3f8c"},{"offset":0.4,"color":"#fff"},{"offset":0.413,"color":"#fff"},{"offset":0.42,"color":"#3b3f8c"},{"offset":0.425,"color":"#fff"},{"offset":0.438,"color":"#fff"},{"offset":0.445,"color":"#3b3f8c"},{"offset":0.45,"color":"#fff"},{"offset":0.463,"color":"#fff"},{"offset":0.47,"color":"#3b3f8c"},{"offset":0.475,"color":"#fff"},{"offset":0.488,"color":"#fff"},{"offset":0.495,"color":"#3b3f8c"},{"offset":0.5,"color":"#fff"},{"offset":0.513,"color":"#fff"},{"offset":0.52,"color":"#3b3f8c"},{"offset":0.525,"color":"#fff"},{"offset":0.538,"color":"#fff"},{"offset":0.545,"color":"#3b3f8c"},{"offset":0.55,"color":"#fff"},{"offset":0.563,"color":"#fff"},{"offset":0.57,"color":"#3b3f8c"},{"offset":0.575,"color":"#fff"},{"offset":0.588,"color":"#fff"},{"offset":0.595,"color":"#3b3f8c"},{"offset":0.6,"color":"#fff"},{"offset":0.613,"color":"#fff"},{"offset":0.62,"color":"#3b3f8c"},{"offset":0.625,"color":"#fff"},{"offset":0.638,"color":"#fff"},{"offset":0.645,"color":"#3b3f8c"},{"offset":0.65,"color":"#fff"},{"offset":0.663,"color":"#fff"},{"offset":0.67,"color":"#3b3f8c"},{"offset":0.675,"color":"#fff"},{"offset":0.688,"color":"#fff"},{"offset":0.695,"color":"#3b3f8c"},{"offset":0.7,"color":"#fff"},{"offset":0.713,"color":"#fff"},{"offset":0.72,"color":"#3b3f8c"},{"offset":0.725,"color":"#fff"},{"offset":0.738,"color":"#fff"},{"offset":0.745,"color":"#3b3f8c"},{"offset":0.75,"color":"#fff"},{"offset":0.763,"color":"#fff"},{"offset":0.77,"color":"#3b3f8c"},{"offset":0.775,"color":"#fff"},{"offset":0.788,"color":"#fff"},{"offset":0.795,"color":"#3b3f8c"},{"offset":0.8,"color":"#fff"},{"offset":0.813,"color":"#fff"},{"offset":0.82,"color":"#3b3f8c"},{"offset":0.825,"color":"#fff"},{"offset":0.838,"color":"#fff"},{"offset":0.845,"color":"#3b3f8c"},{"offset":0.85,"color":"#fff"},{"offset":0.863,"color":"#fff"},{"offset":0.87,"color":"#3b3f8c"},{"offset":0.875,"color":"#fff"},{"offset":0.888,"color":"#fff"},{"offset":0.895,"color":"#3b3f8c"},{"offset":0.9,"color":"#fff"},{"offset":0.913,"color":"#fff"},{"offset":0.92,"color":"#3b3f8c"},{"offset":0.925,"color":"#fff"},{"offset":0.938,"color":"#fff"},{"offset":0.945,"color":"#3b3f8c"},{"offset":0.95,"color":"#fff"},{"offset":0.963,"color":"#fff"},{"offset":0.97,"color":"#3b3f8c"},{"offset":0.975,"color":"#fff"},{"offset":0.988,"color":"#fff"},{"offset":0.995,"color":"#3b3f8c"},{"offset":1,"color":"#fff"}]}},
   "encoding": {"y": {"field": "s", "type": "quantitative", "scale": {"domain": [0, 350], "nice": false}, "axis": {"values": [0,17.5,35,52.5,70,87.5,105,122.5,140,157.5,175,192.5,210,227.5,245,262.5,280,297.5,315,332.5], "labelExpr": "datum.value % 70 === 0 ? datum.label : ''", "tickSize": 5, "labelAngle": -90, "labelAlign": "center", "labelBaseline": "bottom", "labelPadding": 3, "titlePadding": 4, "labelOverlap": false, "labelFlush": false, "title": "Number"}}}},
  {"data": {"name": "B"}, "mark": {"type": "area", "interpolate": "monotone", "fill": "#e21f26", "stroke": "#3a0d0d", "strokeWidth": 0.8}, "encoding": {"y": {"field": "g1", "type": "quantitative", "scale": {"domain": [0, 350], "nice": false}, "axis": {"values": [0,17.5,35,52.5,70,87.5,105,122.5,140,157.5,175,192.5,210,227.5,245,262.5,280,297.5,315,332.5], "labelExpr": "datum.value % 70 === 0 ? datum.label : ''", "tickSize": 5, "labelAngle": -90, "labelAlign": "center", "labelBaseline": "bottom", "labelPadding": 3, "titlePadding": 4, "labelOverlap": false, "labelFlush": false, "title": "Number"}}}},
  {"data": {"name": "B"}, "mark": {"type": "area", "interpolate": "monotone", "fill": "#e21f26", "stroke": "#3a0d0d", "strokeWidth": 0.8}, "encoding": {"y": {"field": "g2", "type": "quantitative", "scale": {"domain": [0, 350], "nice": false}, "axis": {"values": [0,17.5,35,52.5,70,87.5,105,122.5,140,157.5,175,192.5,210,227.5,245,262.5,280,297.5,315,332.5], "labelExpr": "datum.value % 70 === 0 ? datum.label : ''", "tickSize": 5, "labelAngle": -90, "labelAlign": "center", "labelBaseline": "bottom", "labelPadding": 3, "titlePadding": 4, "labelOverlap": false, "labelFlush": false, "title": "Number"}}}},
  {"data": {"name": "B"}, "mark": {"type": "line", "interpolate": "monotone", "stroke": "#3a2020", "strokeWidth": 0.8}, "encoding": {"y": {"field": "s", "type": "quantitative", "scale": {"domain": [0, 350], "nice": false}, "axis": {"values": [0,17.5,35,52.5,70,87.5,105,122.5,140,157.5,175,192.5,210,227.5,245,262.5,280,297.5,315,332.5], "labelExpr": "datum.value % 70 === 0 ? datum.label : ''", "tickSize": 5, "labelAngle": -90, "labelAlign": "center", "labelBaseline": "bottom", "labelPadding": 3, "titlePadding": 4, "labelOverlap": false, "labelFlush": false, "title": "Number"}}}},
  {"data": {"name": "B"}, "mark": {"type": "line", "interpolate": "monotone", "stroke": "#000", "strokeWidth": 1}, "encoding": {"y": {"field": "fit", "type": "quantitative", "scale": {"domain": [0, 350], "nice": false}, "axis": {"values": [0,17.5,35,52.5,70,87.5,105,122.5,140,157.5,175,192.5,210,227.5,245,262.5,280,297.5,315,332.5], "labelExpr": "datum.value % 70 === 0 ? datum.label : ''", "tickSize": 5, "labelAngle": -90, "labelAlign": "center", "labelBaseline": "bottom", "labelPadding": 3, "titlePadding": 4, "labelOverlap": false, "labelFlush": false, "title": "Number"}}}},
  {"data": {"name": "rB"}, "mark": {"type": "line", "stroke": "#000", "strokeWidth": 0.8}, "encoding": {"y": {"field": "raw", "type": "quantitative", "scale": {"domain": [0, 350], "nice": false}, "axis": {"values": [0,17.5,35,52.5,70,87.5,105,122.5,140,157.5,175,192.5,210,227.5,245,262.5,280,297.5,315,332.5], "labelExpr": "datum.value % 70 === 0 ? datum.label : ''", "tickSize": 5, "labelAngle": -90, "labelAlign": "center", "labelBaseline": "bottom", "labelPadding": 3, "titlePadding": 4, "labelOverlap": false, "labelFlush": false, "title": "Number"}}}},
  {"data": {"name": "leg"}, "transform": [{"filter": "false"}], "mark": {"type": "point", "filled": true, "opacity": 1, "strokeWidth": 0.9}, "encoding": {"color": {"field": "k", "type": "nominal", "scale": {"domain": ["Apoptosis","Dip G1","Dip G2","Dip S"], "range": ["#5fc3d0","#e21f26","#e21f26","#ffffff"]}, "legend": {"title": null}}, "stroke": {"field": "k", "type": "nominal", "scale": {"domain": ["Apoptosis","Dip G1","Dip G2","Dip S"], "range": ["#333333","#333333","#333333","#222222"]}, "legend": {"title": null}}, "shape": {"field": "k", "type": "nominal", "scale": {"domain": ["Apoptosis","Dip G1","Dip G2","Dip S"], "range": ["M-1.4,-1H1.4V1H-1.4Z","M-1.4,-1H1.4V1H-1.4Z","M-1.4,-1H1.4V1H-1.4Z","M-1.4,-1H1.4V1H-1.4Z M-1.4,-0.35L-0.05,1 M-1.35,-1L0.65,1 M-0.65,-1L1.35,1 M0.05,-1L1.4,0.35"]}, "legend": {"title": null}}}}
 ]}
], "spacing": 42, "resolve": {"scale": {"color": "independent", "shape": "independent", "stroke": "independent"}, "legend": {"color": "independent", "shape": "independent", "stroke": "independent"}}},
{"hconcat": [
{"width": 319, "height": 259, "title": {"text": "C", "dx": -38, "dy": 12},
 "encoding": {"x": {"field": "ch", "type": "quantitative", "scale": {"domain": [0, 150], "nice": false}, "axis": {"values": [0,6,12,18,24,30,36,42,48,54,60,66,72,78,84,90,96,102,108,114,120,126,132,138,144,150], "labelExpr": "datum.value % 30 === 0 ? (datum.value === 30 ? '20' : datum.label) : ''", "tickSize": 5, "labelPadding": 5, "titlePadding": 1, "titleLineHeight": 18, "labelOverlap": false, "labelFlush": false, "title": ["Channels (FL2-A)", "TAM-R/CON"]}}},
 "layer": [
  {"data": {"name": "C"}, "mark": {"type": "area", "interpolate": "monotone", "fill": {"gradient": "linear", "x1": 0, "y1": 1, "x2": 1.076, "y2": 0.91, "stops": [{"offset":0,"color":"#fff"},{"offset":0.013,"color":"#fff"},{"offset":0.02,"color":"#3b3f8c"},{"offset":0.025,"color":"#fff"},{"offset":0.038,"color":"#fff"},{"offset":0.045,"color":"#3b3f8c"},{"offset":0.05,"color":"#fff"},{"offset":0.063,"color":"#fff"},{"offset":0.07,"color":"#3b3f8c"},{"offset":0.075,"color":"#fff"},{"offset":0.088,"color":"#fff"},{"offset":0.095,"color":"#3b3f8c"},{"offset":0.1,"color":"#fff"},{"offset":0.113,"color":"#fff"},{"offset":0.12,"color":"#3b3f8c"},{"offset":0.125,"color":"#fff"},{"offset":0.138,"color":"#fff"},{"offset":0.145,"color":"#3b3f8c"},{"offset":0.15,"color":"#fff"},{"offset":0.163,"color":"#fff"},{"offset":0.17,"color":"#3b3f8c"},{"offset":0.175,"color":"#fff"},{"offset":0.188,"color":"#fff"},{"offset":0.195,"color":"#3b3f8c"},{"offset":0.2,"color":"#fff"},{"offset":0.213,"color":"#fff"},{"offset":0.22,"color":"#3b3f8c"},{"offset":0.225,"color":"#fff"},{"offset":0.238,"color":"#fff"},{"offset":0.245,"color":"#3b3f8c"},{"offset":0.25,"color":"#fff"},{"offset":0.263,"color":"#fff"},{"offset":0.27,"color":"#3b3f8c"},{"offset":0.275,"color":"#fff"},{"offset":0.288,"color":"#fff"},{"offset":0.295,"color":"#3b3f8c"},{"offset":0.3,"color":"#fff"},{"offset":0.313,"color":"#fff"},{"offset":0.32,"color":"#3b3f8c"},{"offset":0.325,"color":"#fff"},{"offset":0.338,"color":"#fff"},{"offset":0.345,"color":"#3b3f8c"},{"offset":0.35,"color":"#fff"},{"offset":0.363,"color":"#fff"},{"offset":0.37,"color":"#3b3f8c"},{"offset":0.375,"color":"#fff"},{"offset":0.388,"color":"#fff"},{"offset":0.395,"color":"#3b3f8c"},{"offset":0.4,"color":"#fff"},{"offset":0.413,"color":"#fff"},{"offset":0.42,"color":"#3b3f8c"},{"offset":0.425,"color":"#fff"},{"offset":0.438,"color":"#fff"},{"offset":0.445,"color":"#3b3f8c"},{"offset":0.45,"color":"#fff"},{"offset":0.463,"color":"#fff"},{"offset":0.47,"color":"#3b3f8c"},{"offset":0.475,"color":"#fff"},{"offset":0.488,"color":"#fff"},{"offset":0.495,"color":"#3b3f8c"},{"offset":0.5,"color":"#fff"},{"offset":0.513,"color":"#fff"},{"offset":0.52,"color":"#3b3f8c"},{"offset":0.525,"color":"#fff"},{"offset":0.538,"color":"#fff"},{"offset":0.545,"color":"#3b3f8c"},{"offset":0.55,"color":"#fff"},{"offset":0.563,"color":"#fff"},{"offset":0.57,"color":"#3b3f8c"},{"offset":0.575,"color":"#fff"},{"offset":0.588,"color":"#fff"},{"offset":0.595,"color":"#3b3f8c"},{"offset":0.6,"color":"#fff"},{"offset":0.613,"color":"#fff"},{"offset":0.62,"color":"#3b3f8c"},{"offset":0.625,"color":"#fff"},{"offset":0.638,"color":"#fff"},{"offset":0.645,"color":"#3b3f8c"},{"offset":0.65,"color":"#fff"},{"offset":0.663,"color":"#fff"},{"offset":0.67,"color":"#3b3f8c"},{"offset":0.675,"color":"#fff"},{"offset":0.688,"color":"#fff"},{"offset":0.695,"color":"#3b3f8c"},{"offset":0.7,"color":"#fff"},{"offset":0.713,"color":"#fff"},{"offset":0.72,"color":"#3b3f8c"},{"offset":0.725,"color":"#fff"},{"offset":0.738,"color":"#fff"},{"offset":0.745,"color":"#3b3f8c"},{"offset":0.75,"color":"#fff"},{"offset":0.763,"color":"#fff"},{"offset":0.77,"color":"#3b3f8c"},{"offset":0.775,"color":"#fff"},{"offset":0.788,"color":"#fff"},{"offset":0.795,"color":"#3b3f8c"},{"offset":0.8,"color":"#fff"},{"offset":0.813,"color":"#fff"},{"offset":0.82,"color":"#3b3f8c"},{"offset":0.825,"color":"#fff"},{"offset":0.838,"color":"#fff"},{"offset":0.845,"color":"#3b3f8c"},{"offset":0.85,"color":"#fff"},{"offset":0.863,"color":"#fff"},{"offset":0.87,"color":"#3b3f8c"},{"offset":0.875,"color":"#fff"},{"offset":0.888,"color":"#fff"},{"offset":0.895,"color":"#3b3f8c"},{"offset":0.9,"color":"#fff"},{"offset":0.913,"color":"#fff"},{"offset":0.92,"color":"#3b3f8c"},{"offset":0.925,"color":"#fff"},{"offset":0.938,"color":"#fff"},{"offset":0.945,"color":"#3b3f8c"},{"offset":0.95,"color":"#fff"},{"offset":0.963,"color":"#fff"},{"offset":0.97,"color":"#3b3f8c"},{"offset":0.975,"color":"#fff"},{"offset":0.988,"color":"#fff"},{"offset":0.995,"color":"#3b3f8c"},{"offset":1,"color":"#fff"}]}},
   "encoding": {"y": {"field": "s", "type": "quantitative", "scale": {"domain": [0, 400], "nice": false}, "axis": {"values": [0,20,40,60,80,100,120,140,160,180,200,220,240,260,280,300,320,340,360,380], "labelExpr": "datum.value % 80 === 0 ? datum.label : ''", "tickSize": 5, "labelAngle": -90, "labelAlign": "center", "labelBaseline": "bottom", "labelPadding": 3, "titlePadding": 4, "labelOverlap": false, "labelFlush": false, "title": "Number"}}}},
  {"data": {"name": "C"}, "mark": {"type": "area", "interpolate": "monotone", "fill": "#e21f26", "stroke": "#3a0d0d", "strokeWidth": 0.8}, "encoding": {"y": {"field": "g1", "type": "quantitative", "scale": {"domain": [0, 400], "nice": false}, "axis": {"values": [0,20,40,60,80,100,120,140,160,180,200,220,240,260,280,300,320,340,360,380], "labelExpr": "datum.value % 80 === 0 ? datum.label : ''", "tickSize": 5, "labelAngle": -90, "labelAlign": "center", "labelBaseline": "bottom", "labelPadding": 3, "titlePadding": 4, "labelOverlap": false, "labelFlush": false, "title": "Number"}}}},
  {"data": {"name": "C"}, "mark": {"type": "area", "interpolate": "monotone", "fill": "#e21f26", "stroke": "#3a0d0d", "strokeWidth": 0.8}, "encoding": {"y": {"field": "g2", "type": "quantitative", "scale": {"domain": [0, 400], "nice": false}, "axis": {"values": [0,20,40,60,80,100,120,140,160,180,200,220,240,260,280,300,320,340,360,380], "labelExpr": "datum.value % 80 === 0 ? datum.label : ''", "tickSize": 5, "labelAngle": -90, "labelAlign": "center", "labelBaseline": "bottom", "labelPadding": 3, "titlePadding": 4, "labelOverlap": false, "labelFlush": false, "title": "Number"}}}},
  {"data": {"name": "C"}, "mark": {"type": "line", "interpolate": "monotone", "stroke": "#3a2020", "strokeWidth": 0.8}, "encoding": {"y": {"field": "s", "type": "quantitative", "scale": {"domain": [0, 400], "nice": false}, "axis": {"values": [0,20,40,60,80,100,120,140,160,180,200,220,240,260,280,300,320,340,360,380], "labelExpr": "datum.value % 80 === 0 ? datum.label : ''", "tickSize": 5, "labelAngle": -90, "labelAlign": "center", "labelBaseline": "bottom", "labelPadding": 3, "titlePadding": 4, "labelOverlap": false, "labelFlush": false, "title": "Number"}}}},
  {"data": {"name": "C"}, "mark": {"type": "line", "interpolate": "monotone", "stroke": "#000", "strokeWidth": 1}, "encoding": {"y": {"field": "fit", "type": "quantitative", "scale": {"domain": [0, 400], "nice": false}, "axis": {"values": [0,20,40,60,80,100,120,140,160,180,200,220,240,260,280,300,320,340,360,380], "labelExpr": "datum.value % 80 === 0 ? datum.label : ''", "tickSize": 5, "labelAngle": -90, "labelAlign": "center", "labelBaseline": "bottom", "labelPadding": 3, "titlePadding": 4, "labelOverlap": false, "labelFlush": false, "title": "Number"}}}},
  {"data": {"name": "rC"}, "mark": {"type": "line", "stroke": "#000", "strokeWidth": 0.8}, "encoding": {"y": {"field": "raw", "type": "quantitative", "scale": {"domain": [0, 400], "nice": false}, "axis": {"values": [0,20,40,60,80,100,120,140,160,180,200,220,240,260,280,300,320,340,360,380], "labelExpr": "datum.value % 80 === 0 ? datum.label : ''", "tickSize": 5, "labelAngle": -90, "labelAlign": "center", "labelBaseline": "bottom", "labelPadding": 3, "titlePadding": 4, "labelOverlap": false, "labelFlush": false, "title": "Number"}}}},
  {"data": {"name": "mC"}, "mark": {"type": "point", "shape": "triangle-up", "filled": true, "color": "#000", "opacity": 1, "size": 40, "yOffset": 4}, "encoding": {"y": {"datum": 0, "type": "quantitative", "scale": {"domain": [0, 400], "nice": false}, "axis": {"values": [0,20,40,60,80,100,120,140,160,180,200,220,240,260,280,300,320,340,360,380], "labelExpr": "datum.value % 80 === 0 ? datum.label : ''", "tickSize": 5, "labelAngle": -90, "labelAlign": "center", "labelBaseline": "bottom", "labelPadding": 3, "titlePadding": 4, "labelOverlap": false, "labelFlush": false, "title": "Number"}}}},
  {"data": {"name": "leg"}, "transform": [{"filter": "false"}], "mark": {"type": "point", "filled": true, "opacity": 1, "strokeWidth": 0.9}, "encoding": {"color": {"field": "k", "type": "nominal", "scale": {"domain": ["Apoptosis","Dip G1","Dip G2","Dip S"], "range": ["#5fc3d0","#e21f26","#e21f26","#ffffff"]}, "legend": {"title": null}}, "stroke": {"field": "k", "type": "nominal", "scale": {"domain": ["Apoptosis","Dip G1","Dip G2","Dip S"], "range": ["#333333","#333333","#333333","#222222"]}, "legend": {"title": null}}, "shape": {"field": "k", "type": "nominal", "scale": {"domain": ["Apoptosis","Dip G1","Dip G2","Dip S"], "range": ["M-1.4,-1H1.4V1H-1.4Z","M-1.4,-1H1.4V1H-1.4Z","M-1.4,-1H1.4V1H-1.4Z","M-1.4,-1H1.4V1H-1.4Z M-1.4,-0.35L-0.05,1 M-1.35,-1L0.65,1 M-0.65,-1L1.35,1 M0.05,-1L1.4,0.35"]}, "legend": {"title": null}}}}
 ]},
{"width": 319, "height": 259, "title": {"text": "D", "dx": -40, "dy": 12},
 "encoding": {"x": {"field": "ch", "type": "quantitative", "scale": {"domain": [0, 150], "nice": false}, "axis": {"values": [0,6,12,18,24,30,36,42,48,54,60,66,72,78,84,90,96,102,108,114,120,126,132,138,144,150], "labelExpr": "datum.value % 30 === 0 ? (datum.value === 30 ? '20' : datum.label) : ''", "tickSize": 5, "labelPadding": 5, "titlePadding": 1, "titleLineHeight": 18, "labelOverlap": false, "labelFlush": false, "title": ["Channels (FL2-A)", "TAM-R/TAM"]}}},
 "layer": [
  {"data": {"name": "D"}, "transform": [{"filter": "datum.ch >= 46"}], "mark": {"type": "area", "interpolate": "monotone", "fill": {"gradient": "linear", "x1": 0, "y1": 1, "x2": 1.112, "y2": 0.854, "stops": [{"offset":0,"color":"#fff"},{"offset":0.013,"color":"#fff"},{"offset":0.02,"color":"#3b3f8c"},{"offset":0.025,"color":"#fff"},{"offset":0.038,"color":"#fff"},{"offset":0.045,"color":"#3b3f8c"},{"offset":0.05,"color":"#fff"},{"offset":0.063,"color":"#fff"},{"offset":0.07,"color":"#3b3f8c"},{"offset":0.075,"color":"#fff"},{"offset":0.088,"color":"#fff"},{"offset":0.095,"color":"#3b3f8c"},{"offset":0.1,"color":"#fff"},{"offset":0.113,"color":"#fff"},{"offset":0.12,"color":"#3b3f8c"},{"offset":0.125,"color":"#fff"},{"offset":0.138,"color":"#fff"},{"offset":0.145,"color":"#3b3f8c"},{"offset":0.15,"color":"#fff"},{"offset":0.163,"color":"#fff"},{"offset":0.17,"color":"#3b3f8c"},{"offset":0.175,"color":"#fff"},{"offset":0.188,"color":"#fff"},{"offset":0.195,"color":"#3b3f8c"},{"offset":0.2,"color":"#fff"},{"offset":0.213,"color":"#fff"},{"offset":0.22,"color":"#3b3f8c"},{"offset":0.225,"color":"#fff"},{"offset":0.238,"color":"#fff"},{"offset":0.245,"color":"#3b3f8c"},{"offset":0.25,"color":"#fff"},{"offset":0.263,"color":"#fff"},{"offset":0.27,"color":"#3b3f8c"},{"offset":0.275,"color":"#fff"},{"offset":0.288,"color":"#fff"},{"offset":0.295,"color":"#3b3f8c"},{"offset":0.3,"color":"#fff"},{"offset":0.313,"color":"#fff"},{"offset":0.32,"color":"#3b3f8c"},{"offset":0.325,"color":"#fff"},{"offset":0.338,"color":"#fff"},{"offset":0.345,"color":"#3b3f8c"},{"offset":0.35,"color":"#fff"},{"offset":0.363,"color":"#fff"},{"offset":0.37,"color":"#3b3f8c"},{"offset":0.375,"color":"#fff"},{"offset":0.388,"color":"#fff"},{"offset":0.395,"color":"#3b3f8c"},{"offset":0.4,"color":"#fff"},{"offset":0.413,"color":"#fff"},{"offset":0.42,"color":"#3b3f8c"},{"offset":0.425,"color":"#fff"},{"offset":0.438,"color":"#fff"},{"offset":0.445,"color":"#3b3f8c"},{"offset":0.45,"color":"#fff"},{"offset":0.463,"color":"#fff"},{"offset":0.47,"color":"#3b3f8c"},{"offset":0.475,"color":"#fff"},{"offset":0.488,"color":"#fff"},{"offset":0.495,"color":"#3b3f8c"},{"offset":0.5,"color":"#fff"},{"offset":0.513,"color":"#fff"},{"offset":0.52,"color":"#3b3f8c"},{"offset":0.525,"color":"#fff"},{"offset":0.538,"color":"#fff"},{"offset":0.545,"color":"#3b3f8c"},{"offset":0.55,"color":"#fff"},{"offset":0.563,"color":"#fff"},{"offset":0.57,"color":"#3b3f8c"},{"offset":0.575,"color":"#fff"},{"offset":0.588,"color":"#fff"},{"offset":0.595,"color":"#3b3f8c"},{"offset":0.6,"color":"#fff"},{"offset":0.613,"color":"#fff"},{"offset":0.62,"color":"#3b3f8c"},{"offset":0.625,"color":"#fff"},{"offset":0.638,"color":"#fff"},{"offset":0.645,"color":"#3b3f8c"},{"offset":0.65,"color":"#fff"},{"offset":0.663,"color":"#fff"},{"offset":0.67,"color":"#3b3f8c"},{"offset":0.675,"color":"#fff"},{"offset":0.688,"color":"#fff"},{"offset":0.695,"color":"#3b3f8c"},{"offset":0.7,"color":"#fff"},{"offset":0.713,"color":"#fff"},{"offset":0.72,"color":"#3b3f8c"},{"offset":0.725,"color":"#fff"},{"offset":0.738,"color":"#fff"},{"offset":0.745,"color":"#3b3f8c"},{"offset":0.75,"color":"#fff"},{"offset":0.763,"color":"#fff"},{"offset":0.77,"color":"#3b3f8c"},{"offset":0.775,"color":"#fff"},{"offset":0.788,"color":"#fff"},{"offset":0.795,"color":"#3b3f8c"},{"offset":0.8,"color":"#fff"},{"offset":0.813,"color":"#fff"},{"offset":0.82,"color":"#3b3f8c"},{"offset":0.825,"color":"#fff"},{"offset":0.838,"color":"#fff"},{"offset":0.845,"color":"#3b3f8c"},{"offset":0.85,"color":"#fff"},{"offset":0.863,"color":"#fff"},{"offset":0.87,"color":"#3b3f8c"},{"offset":0.875,"color":"#fff"},{"offset":0.888,"color":"#fff"},{"offset":0.895,"color":"#3b3f8c"},{"offset":0.9,"color":"#fff"},{"offset":0.913,"color":"#fff"},{"offset":0.92,"color":"#3b3f8c"},{"offset":0.925,"color":"#fff"},{"offset":0.938,"color":"#fff"},{"offset":0.945,"color":"#3b3f8c"},{"offset":0.95,"color":"#fff"},{"offset":0.963,"color":"#fff"},{"offset":0.97,"color":"#3b3f8c"},{"offset":0.975,"color":"#fff"},{"offset":0.988,"color":"#fff"},{"offset":0.995,"color":"#3b3f8c"},{"offset":1,"color":"#fff"}]}},
   "encoding": {"y": {"field": "s", "type": "quantitative", "scale": {"domain": [0, 150], "nice": false}, "axis": {"values": [0,7.5,15,22.5,30,37.5,45,52.5,60,67.5,75,82.5,90,97.5,105,112.5,120,127.5,135,142.5], "labelExpr": "datum.value % 30 === 0 ? datum.label : ''", "tickSize": 5, "labelAngle": -90, "labelAlign": "center", "labelBaseline": "bottom", "labelPadding": 3, "titlePadding": 4, "labelOverlap": false, "labelFlush": false, "title": "Number"}}}},
  {"data": {"name": "D"}, "transform": [{"filter": "datum.ch <= 46"}], "mark": {"type": "area", "interpolate": "monotone", "fill": "#5fc3d0", "stroke": "#1a3a3a", "strokeWidth": 0.8}, "encoding": {"y": {"field": "ap", "type": "quantitative", "scale": {"domain": [0, 150], "nice": false}, "axis": {"values": [0,7.5,15,22.5,30,37.5,45,52.5,60,67.5,75,82.5,90,97.5,105,112.5,120,127.5,135,142.5], "labelExpr": "datum.value % 30 === 0 ? datum.label : ''", "tickSize": 5, "labelAngle": -90, "labelAlign": "center", "labelBaseline": "bottom", "labelPadding": 3, "titlePadding": 4, "labelOverlap": false, "labelFlush": false, "title": "Number"}}}},
  {"data": {"name": "D"}, "mark": {"type": "area", "interpolate": "monotone", "fill": "#e21f26", "stroke": "#3a0d0d", "strokeWidth": 0.8}, "encoding": {"y": {"field": "g1", "type": "quantitative", "scale": {"domain": [0, 150], "nice": false}, "axis": {"values": [0,7.5,15,22.5,30,37.5,45,52.5,60,67.5,75,82.5,90,97.5,105,112.5,120,127.5,135,142.5], "labelExpr": "datum.value % 30 === 0 ? datum.label : ''", "tickSize": 5, "labelAngle": -90, "labelAlign": "center", "labelBaseline": "bottom", "labelPadding": 3, "titlePadding": 4, "labelOverlap": false, "labelFlush": false, "title": "Number"}}}},
  {"data": {"name": "D"}, "mark": {"type": "area", "interpolate": "monotone", "fill": "#e21f26", "stroke": "#3a0d0d", "strokeWidth": 0.8}, "encoding": {"y": {"field": "g2", "type": "quantitative", "scale": {"domain": [0, 150], "nice": false}, "axis": {"values": [0,7.5,15,22.5,30,37.5,45,52.5,60,67.5,75,82.5,90,97.5,105,112.5,120,127.5,135,142.5], "labelExpr": "datum.value % 30 === 0 ? datum.label : ''", "tickSize": 5, "labelAngle": -90, "labelAlign": "center", "labelBaseline": "bottom", "labelPadding": 3, "titlePadding": 4, "labelOverlap": false, "labelFlush": false, "title": "Number"}}}},
  {"data": {"name": "D"}, "transform": [{"filter": "datum.ch >= 46"}], "mark": {"type": "line", "interpolate": "monotone", "stroke": "#3a2020", "strokeWidth": 0.8}, "encoding": {"y": {"field": "s", "type": "quantitative", "scale": {"domain": [0, 150], "nice": false}, "axis": {"values": [0,7.5,15,22.5,30,37.5,45,52.5,60,67.5,75,82.5,90,97.5,105,112.5,120,127.5,135,142.5], "labelExpr": "datum.value % 30 === 0 ? datum.label : ''", "tickSize": 5, "labelAngle": -90, "labelAlign": "center", "labelBaseline": "bottom", "labelPadding": 3, "titlePadding": 4, "labelOverlap": false, "labelFlush": false, "title": "Number"}}}},
  {"data": {"name": "D"}, "mark": {"type": "line", "interpolate": "monotone", "stroke": "#000", "strokeWidth": 1}, "encoding": {"y": {"field": "fit", "type": "quantitative", "scale": {"domain": [0, 150], "nice": false}, "axis": {"values": [0,7.5,15,22.5,30,37.5,45,52.5,60,67.5,75,82.5,90,97.5,105,112.5,120,127.5,135,142.5], "labelExpr": "datum.value % 30 === 0 ? datum.label : ''", "tickSize": 5, "labelAngle": -90, "labelAlign": "center", "labelBaseline": "bottom", "labelPadding": 3, "titlePadding": 4, "labelOverlap": false, "labelFlush": false, "title": "Number"}}}},
  {"data": {"name": "rD"}, "mark": {"type": "line", "stroke": "#000", "strokeWidth": 0.8}, "encoding": {"y": {"field": "raw", "type": "quantitative", "scale": {"domain": [0, 150], "nice": false}, "axis": {"values": [0,7.5,15,22.5,30,37.5,45,52.5,60,67.5,75,82.5,90,97.5,105,112.5,120,127.5,135,142.5], "labelExpr": "datum.value % 30 === 0 ? datum.label : ''", "tickSize": 5, "labelAngle": -90, "labelAlign": "center", "labelBaseline": "bottom", "labelPadding": 3, "titlePadding": 4, "labelOverlap": false, "labelFlush": false, "title": "Number"}}}},
  {"data": {"name": "mD"}, "mark": {"type": "point", "shape": "triangle-up", "filled": true, "color": "#000", "opacity": 1, "size": 40, "yOffset": 4}, "encoding": {"y": {"datum": 0, "type": "quantitative", "scale": {"domain": [0, 150], "nice": false}, "axis": {"values": [0,7.5,15,22.5,30,37.5,45,52.5,60,67.5,75,82.5,90,97.5,105,112.5,120,127.5,135,142.5], "labelExpr": "datum.value % 30 === 0 ? datum.label : ''", "tickSize": 5, "labelAngle": -90, "labelAlign": "center", "labelBaseline": "bottom", "labelPadding": 3, "titlePadding": 4, "labelOverlap": false, "labelFlush": false, "title": "Number"}}}},
  {"data": {"name": "leg"}, "transform": [{"filter": "false"}], "mark": {"type": "point", "filled": true, "opacity": 1, "strokeWidth": 0.9}, "encoding": {"color": {"field": "k", "type": "nominal", "scale": {"domain": ["Apoptosis","Dip G1","Dip G2","Dip S"], "range": ["#5fc3d0","#e21f26","#e21f26","#ffffff"]}, "legend": {"title": null}}, "stroke": {"field": "k", "type": "nominal", "scale": {"domain": ["Apoptosis","Dip G1","Dip G2","Dip S"], "range": ["#333333","#333333","#333333","#222222"]}, "legend": {"title": null}}, "shape": {"field": "k", "type": "nominal", "scale": {"domain": ["Apoptosis","Dip G1","Dip G2","Dip S"], "range": ["M-1.4,-1H1.4V1H-1.4Z","M-1.4,-1H1.4V1H-1.4Z","M-1.4,-1H1.4V1H-1.4Z","M-1.4,-1H1.4V1H-1.4Z M-1.4,-0.35L-0.05,1 M-1.35,-1L0.65,1 M-0.65,-1L1.35,1 M0.05,-1L1.4,0.35"]}, "legend": {"title": null}}}}
 ]}
], "spacing": 42, "resolve": {"scale": {"color": "independent", "shape": "independent", "stroke": "independent"}, "legend": {"color": "independent", "shape": "independent", "stroke": "independent"}}}
]
}
